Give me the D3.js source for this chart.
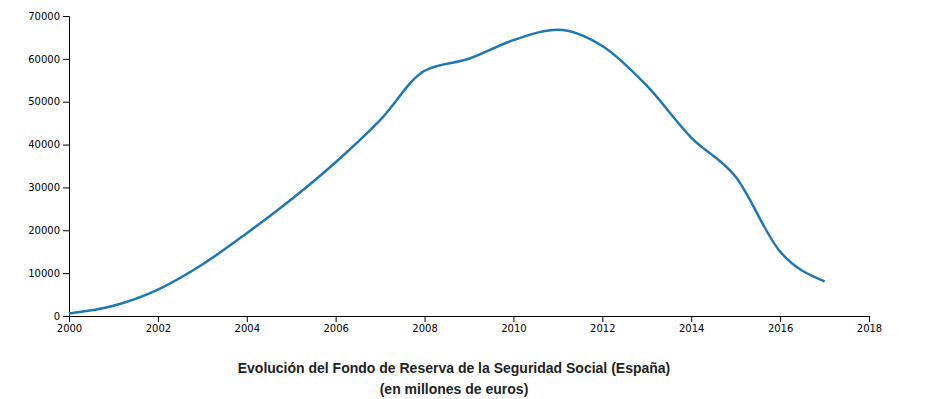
<!DOCTYPE html>
<html>
<head>
<meta charset="utf-8">
<title>Fondo de Reserva</title>
<script src="https://d3js.org/d3.v7.min.js"></script>
<style>
    body { margin: 0; background: #fff; }
    .axis text { font-family: "DejaVu Sans", sans-serif; font-size: 10px; }
    .title { font-family: "Liberation Sans", Arial, sans-serif; font-weight: bold; font-size: 14px; fill: #222; }
</style>
</head>
<body>
<svg class="chart"></svg>
<script>
// years and fund value (millions of euros)
var years = [2000, 2001, 2002, 2003, 2004, 2005, 2006, 2007, 2008,
             2009, 2010, 2011, 2012, 2013, 2014, 2015, 2016, 2017];
var values = [601, 2397, 6168, 12025, 19330, 27189, 35879, 45716, 57223,
              60022, 64375, 66815, 63008, 53744, 41634, 32481, 15020, 8095];
var xTicks = [2000, 2002, 2004, 2006, 2008, 2010, 2012, 2014, 2016, 2018];
var yTicks = [0, 10000, 20000, 30000, 40000, 50000, 60000, 70000];

var margin = {top: 16, right: 58, bottom: 83, left: 69};
var width = 800;
var height = 300;

var svg = d3.select(".chart")
    .attr("width", 927)
    .attr("height", 399);

var chart = svg.append("g")
    .attr("transform", "translate(" + margin.left + "," + margin.top + ")");

var x = d3.scaleLinear().domain([2000, 2018]).range([0, width]);
var y = d3.scaleLinear().domain([0, 70000]).range([height, 0]);

chart.append("g")
    .attr("class", "axis")
    .attr("transform", "translate(0," + height + ")")
    .call(d3.axisBottom(x).tickValues(xTicks).tickFormat(d3.format("d")))
    .attr("font-family", null);

chart.append("g")
    .attr("class", "axis")
    .call(d3.axisLeft(y).tickValues(yTicks).tickFormat(d3.format("d")))
    .attr("font-family", null);

var data = years.map(function(d, i) { return {year: d, value: values[i]}; });

var line = d3.line()
    .x(function(d) { return x(d.year); })
    .y(function(d) { return y(d.value); })
    .curve(d3.curveMonotoneX);

chart.append("path")
    .datum(data)
    .attr("fill", "none")
    .attr("stroke", "#1f77b4")
    .attr("stroke-width", 2.5)
    .attr("d", line);

// title below the chart
svg.append("text")
    .attr("class", "title")
    .attr("x", 454)
    .attr("y", 373)
    .attr("text-anchor", "middle")
    .text("Evolución del Fondo de Reserva de la Seguridad Social (España)");

svg.append("text")
    .attr("class", "title")
    .attr("x", 454)
    .attr("y", 394)
    .attr("text-anchor", "middle")
    .text("(en millones de euros)");
</script>
</body>
</html>
